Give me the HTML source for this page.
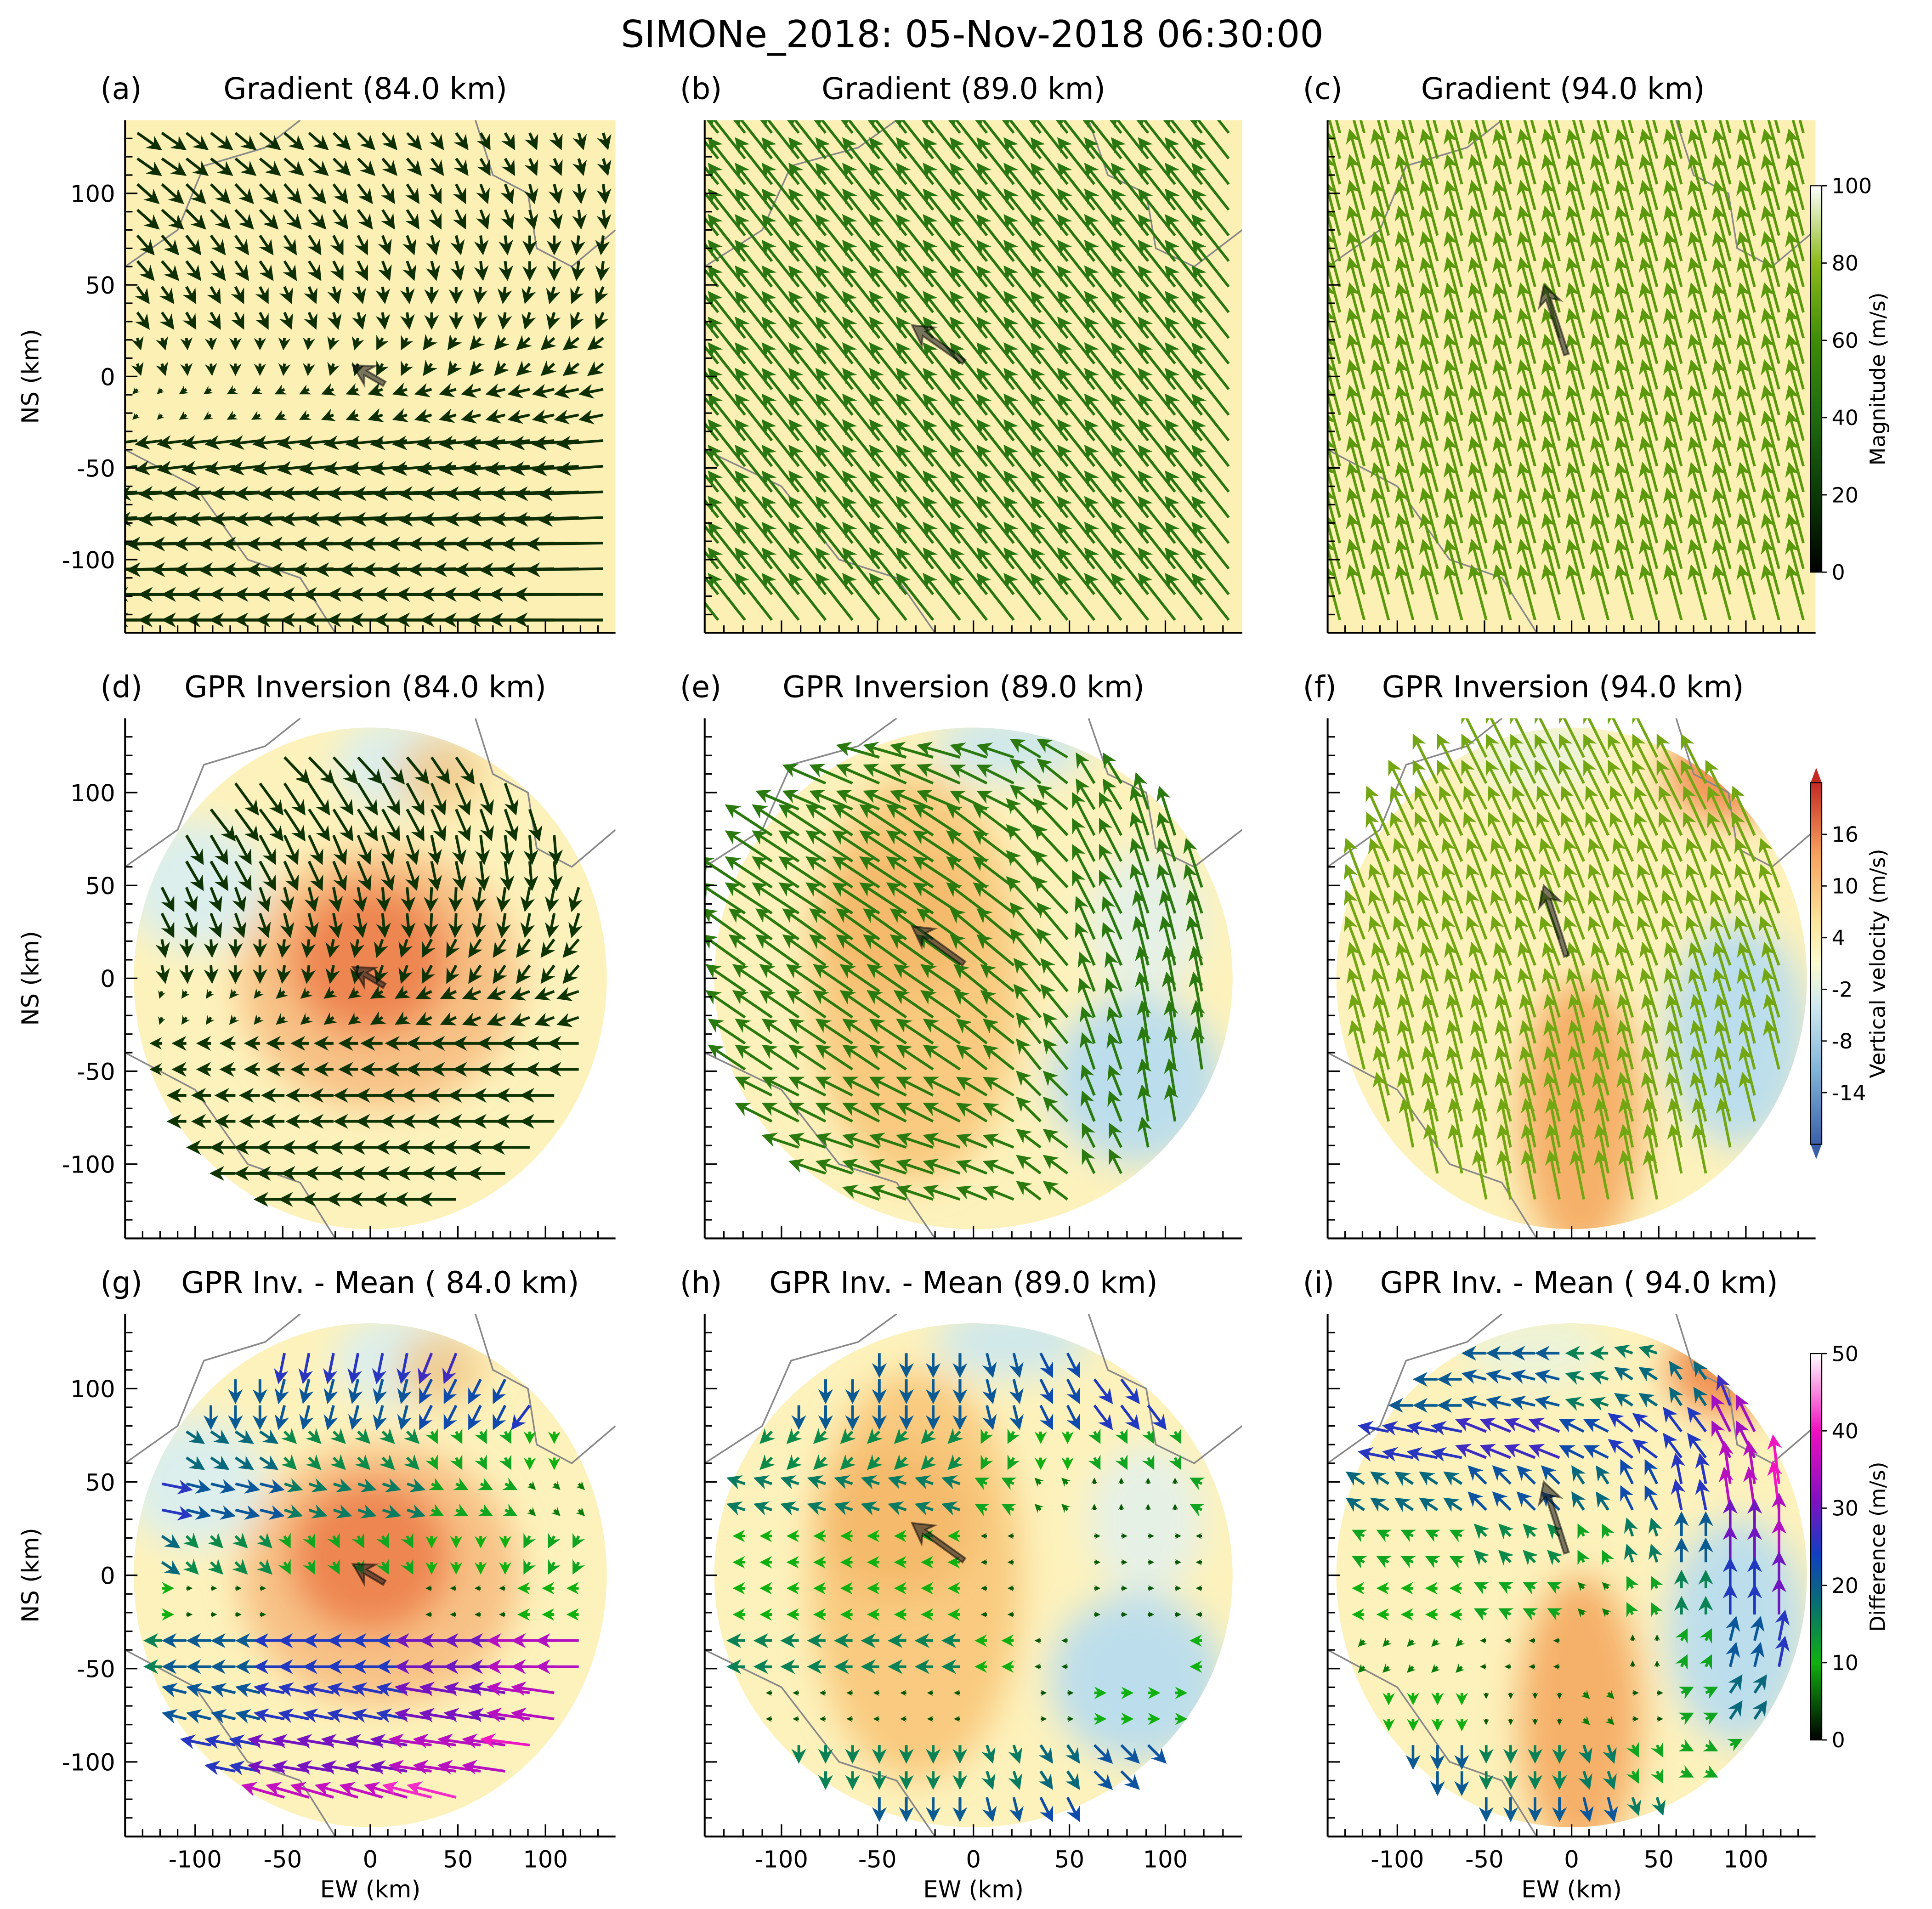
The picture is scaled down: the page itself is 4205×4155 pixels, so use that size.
<!DOCTYPE html>
<html><head><meta charset="utf-8"><style>
html,body{margin:0;padding:0;background:#fff}
svg{display:block}
text{font-family:"DejaVu Sans","Liberation Sans",sans-serif;fill:#000}
</style></head><body>
<svg id="fig" xmlns="http://www.w3.org/2000/svg" width="4205" height="4155" viewBox="0 0 1560 1541.5" preserveAspectRatio="none">
<defs>
<filter id="blur" x="-50%" y="-50%" width="200%" height="200%"><feGaussianBlur stdDeviation="14"/></filter>
<linearGradient id="gMag" x1="0" y1="1" x2="0" y2="0">
<stop offset="0" stop-color="#000"/><stop offset="0.2" stop-color="#0b3a06"/><stop offset="0.4" stop-color="#1f6a10"/><stop offset="0.6" stop-color="#3e8c08"/><stop offset="0.8" stop-color="#8cba1a"/><stop offset="1" stop-color="#ffffff"/></linearGradient>
<linearGradient id="gVel" x1="0" y1="1" x2="0" y2="0">
<stop offset="0" stop-color="#3a5fa8"/><stop offset="0.2" stop-color="#7fb3d8"/><stop offset="0.38" stop-color="#cfe8f0"/><stop offset="0.5" stop-color="#fbfbd0"/><stop offset="0.62" stop-color="#fbe49a"/><stop offset="0.8" stop-color="#f7a25e"/><stop offset="1" stop-color="#c42a24"/></linearGradient>
<linearGradient id="gDif" x1="0" y1="1" x2="0" y2="0">
<stop offset="0" stop-color="#000"/><stop offset="0.2" stop-color="#10b010"/><stop offset="0.35" stop-color="#087070"/><stop offset="0.48" stop-color="#1040c0"/><stop offset="0.62" stop-color="#8010c0"/><stop offset="0.8" stop-color="#f010c0"/><stop offset="1" stop-color="#ffffff"/></linearGradient>
</defs>
<text x="785" y="38" font-size="30" text-anchor="middle">SIMONe_2018: 05-Nov-2018 06:30:00</text>
<g id="plots"></g>
</svg>
<script>
// ---- data (m/s): row-band and column-band components, top->bottom / left->right ----
const aRowU=[12,10,6,2,-5,-12,-30,-45,-55,-65], aRowV=[-14,-16,-16,-14,-10,-4,-3,-2,-1,0], aColU=[8,6,5,4,2,0,-2,-4,-6,-8], aColV=[0,0,0,0,0,0,0,0,0,0];
const bRowU=[-30,-30,-30,-30,-30,-30,-30,-30,-30,-30], bRowV=[38,38,38,38,38,38,38,38,38,38], bColU=[0,0,0,0,0,0,0,0,0,0], bColV=[0,0,0,0,0,0,0,0,0,0];
const cRowU=[-12,-12,-12,-12,-12,-12,-12,-12,-12,-12], cRowV=[45,45,45,45,45,45,45,45,45,45], cColU=[0,0,0,0,0,0,0,0,0,0], cColV=[0,0,0,0,0,0,0,0,0,0];
const dRowU=[18,14,8,2,-5,-10,-18,-22,-26,-28], dRowV=[-22,-26,-24,-20,-15,-6,0,0,0,0], dColU=[8,6,5,3,2,0,-3,-5,-6,-8], dColV=[0,0,0,0,0,0,0,0,0,0];
const eRowU=[-35,-35,-38,-38,-35,-32,-30,-30,-30,-30], eRowV=[10,15,25,25,25,22,20,15,10,10], eColU=[0,0,0,0,0,5,10,20,25,25], eColV=[0,0,0,0,0,0,5,10,15,15];
const fRowU=[-20,-20,-18,-15,-15,-12,-10,-10,-8,-8], fRowV=[40,40,40,40,40,40,40,40,40,40], fColU=[0,0,0,0,0,0,0,0,0,0], fColV=[0,0,0,0,0,0,0,0,0,0];
const gRowU=[-5,-5,10,15,5,0,-25,-25,-30,-35], gRowV=[-25,-20,-10,-5,-10,0,0,5,5,10], gColU=[10,5,5,0,0,0,-5,-5,-10,-10], gColV=[0,0,0,0,0,0,0,0,0,0];
const hRowU=[0,0,-10,-15,-10,-10,-15,-5,0,0], hRowV=[-20,-20,-10,5,0,0,0,0,-15,-20], hColU=[0,0,0,0,0,5,10,15,15,5], hColV=[0,0,0,0,0,0,0,0,0,0];
const iRowU=[-20,-20,-25,-15,-10,-10,-5,0,0,0], iRowV=[0,5,10,15,10,5,0,-5,-15,-20], iColU=[0,0,0,0,0,5,5,10,10,10], iColV=[-5,-5,-5,0,0,0,5,10,20,25];
const magTicks=[0,20,40,60,80,100], velTicks=[16,10,4,-2,-8,-14], difTicks=[0,10,20,30,40,50];
const axisTicks=[-100,-50,0,50,100];

const NS='http://www.w3.org/2000/svg';
const root=document.getElementById('plots');
function mk(tag,attrs,parent){const e=document.createElementNS(NS,tag);for(const k in attrs)e.setAttribute(k,attrs[k]);(parent||root).appendChild(e);return e;}
const colsPx=[[101,497],[569,1003],[1072,1466]];
const rowsPx=[[97,511],[580,1000],[1061,1483]];
function difColor(m){const st=[[0,[0,0,0]],[10,[16,176,16]],[17,[8,112,112]],[24,[16,64,192]],[31,[128,16,192]],[40,[240,16,192]],[50,[255,255,255]]];
 m=Math.max(0,Math.min(50,m));for(let i=1;i<st.length;i++){if(m<=st[i][0]){const a=st[i-1],b=st[i],t=(m-a[0])/(b[0]-a[0]);const c=a[1].map((v,k)=>Math.round(v+(b[1][k]-v)*t));return `rgb(${c})`;}}return '#fff';}
function arrowPts(x,y,dx,dy,w,HL,HAL,HW){const L=Math.hypot(dx,dy);if(L<0.5)return null;const ux=dx/L,uy=dy/L,nx=-uy,ny=ux;
 let hl=HL,hal=HAL,hw=HW;if(L<hl){const s=L/hl;hl*=s;hal*=s;hw*=s;}
 const P=(a,b)=>(x+ux*a+nx*b).toFixed(1)+','+(y+uy*a+ny*b).toFixed(1);
 return [P(0,w/2),P(L-hal,w/2),P(L-hl,hw/2),P(L,0),P(L-hl,-hw/2),P(L-hal,-w/2),P(0,-w/2)].join(' ');}

const panels=[
{c:0,r:0,lab:'(a)',title:'Gradient (84.0 km)',tx:295,RU:aRowU,RV:aRowV,CU:aColU,CV:aColV,col:'#0e2e04',mask:false,ca:[8,-4,-10,6]},
{c:1,r:0,lab:'(b)',title:'Gradient (89.0 km)',tx:778,RU:bRowU,RV:bRowV,CU:bColU,CV:bColV,col:'#2a7612',mask:false,ca:[-5,8,-32,28]},
{c:2,r:0,lab:'(c)',title:'Gradient (94.0 km)',tx:1262,RU:cRowU,RV:cRowV,CU:cColU,CV:cColV,col:'#5a980e',mask:false,ca:[-3,12,-16,50]},
{c:0,r:1,lab:'(d)',title:'GPR Inversion (84.0 km)',tx:295,RU:dRowU,RV:dRowV,CU:dColU,CV:dColV,col:'#0e3404',mask:true,ca:[8,-4,-10,6]},
{c:1,r:1,lab:'(e)',title:'GPR Inversion (89.0 km)',tx:778,RU:eRowU,RV:eRowV,CU:eColU,CV:eColV,col:'#2b7a10',mask:true,ca:[-5,8,-32,28]},
{c:2,r:1,lab:'(f)',title:'GPR Inversion (94.0 km)',tx:1262,RU:fRowU,RV:fRowV,CU:fColU,CV:fColV,col:'#72a612',mask:true,ca:[-3,12,-16,50]},
{c:0,r:2,lab:'(g)',title:'GPR Inv. - Mean ( 84.0 km)',tx:307,RU:gRowU,RV:gRowV,CU:gColU,CV:gColV,col:null,mask:true,ca:[8,-4,-10,6]},
{c:1,r:2,lab:'(h)',title:'GPR Inv. - Mean (89.0 km)',tx:778,RU:hRowU,RV:hRowV,CU:hColU,CV:hColV,col:null,mask:true,ca:[-5,8,-32,28]},
{c:2,r:2,lab:'(i)',title:'GPR Inv. - Mean ( 94.0 km)',tx:1275,RU:iRowU,RV:iRowV,CU:iColU,CV:iColV,col:null,mask:true,ca:[-3,12,-16,50]}];
const blobs=[
 [[0,10,45,40,'#e4502a',0.9],[5,0,80,70,'#f4a060',0.6],[-100,50,40,35,'#d8eef2',0.9],[20,115,40,25,'#d8eef2',0.9],[40,110,25,20,'#f8c070',0.7]],
 [[-30,0,55,110,'#f7c070',0.8],[-40,30,40,40,'#f4b060',0.6],[85,-55,45,45,'#b8dcee',0.95],[20,125,40,20,'#cce8f0',0.9],[90,30,30,40,'#e0f0f0',0.8]],
 [[5,-75,35,75,'#f4a860',0.9],[90,110,35,25,'#f08848',0.9],[95,-30,40,60,'#b8dcee',0.95],[-20,120,40,20,'#e8f4e0',0.8]]];

panels.forEach((p,pi)=>{
 const [X0,X1]=colsPx[p.c],[Y0,Y1]=rowsPx[p.r];
 const sx=v=>X0+(v+140)/280*(X1-X0), sy=v=>Y0+(140-v)/280*(Y1-Y0);
 const kx=(X1-X0)/280, ky=(Y1-Y0)/280;
 const g=mk('g',{});
 const cid='clip'+pi;const cp=mk('clipPath',{id:cid},g);mk('rect',{x:X0,y:Y0,width:X1-X0,height:Y1-Y0},cp);
 const bg=mk('g',{'clip-path':`url(#${cid})`},g);
 if(!p.mask){const r=mk('rect',{x:X0,y:Y0,width:X1-X0,height:Y1-Y0,fill:'#fdf0b4'},bg);}
 else{const did='disc'+pi;const dc=mk('clipPath',{id:did},g);mk('ellipse',{cx:sx(0),cy:sy(0),rx:135*kx,ry:135*ky},dc);
  const dg=mk('g',{'clip-path':`url(#${did})`},bg);
  mk('rect',{x:X0,y:Y0,width:X1-X0,height:Y1-Y0,fill:'#fdf2bc'},dg);
  const bl=mk('g',{filter:'url(#blur)'},dg);
  blobs[p.c].forEach(b=>mk('ellipse',{cx:sx(b[0]),cy:sy(b[1]),rx:b[2]*kx,ry:b[3]*ky,fill:b[4],opacity:b[5]},bl));}
 const cont=mk('polyline',{points:[[-140,60],[-110,80],[-95,115],[-60,125],[-40,140]].map(q=>sx(q[0])+','+sy(q[1])).join(' '),fill:'none',stroke:'#888',"stroke-width":1.3},bg);
 
 mk('polyline',{points:[[-140,-40],[-100,-60],[-70,-100],[-40,-110],[-20,-140]].map(q=>sx(q[0])+','+sy(q[1])).join(' '),fill:'none',stroke:'#888',"stroke-width":1.3},bg);
 mk('polyline',{points:[[60,140],[70,110],[90,100],[95,70],[115,60],[140,80]].map(q=>sx(q[0])+','+sy(q[1])).join(' '),fill:'none',stroke:'#888',"stroke-width":1.3},bg);
 const ag=mk('g',{'clip-path':`url(#${cid})`},g);
 for(let i=0;i<20;i++)for(let j=0;j<20;j++){
  const xk=-133+14*j, yk=133-14*i;
  if(p.mask && (xk*xk+yk*yk)>132*132) continue;
  const u=p.RU[i>>1]+p.CU[j>>1], v=p.RV[i>>1]+p.CV[j>>1];
  const pts=arrowPts(sx(xk),sy(yk),u*1.0,-v*1.0,2.2,12,9,12);if(!pts)continue;
  const col=p.col||difColor(Math.hypot(u,v));
  const a=mk('polygon',{points:pts,fill:col},ag);
  
  
 }
 const ca=mk('polygon',{points:arrowPts(sx(p.ca[0]),sy(p.ca[1]),(p.ca[2]-p.ca[0])*kx,-(p.ca[3]-p.ca[1])*ky,4,16,12,18),fill:'#222','fill-opacity':0.6,stroke:'#000','stroke-opacity':0.5,'stroke-width':1.5},ag);
 
 mk('line',{x1:X0,y1:Y0,x2:X0,y2:Y1,stroke:'#000','stroke-width':1.5},g);
 mk('line',{x1:X0,y1:Y1,x2:X1,y2:Y1,stroke:'#000','stroke-width':1.5},g);
 for(let t=-130;t<=130;t+=10){const maj=t%50===0;
  mk('line',{x1:X0,y1:sy(t),x2:X0+(maj?10:6),y2:sy(t),stroke:'#000','stroke-width':1.2},g);
  mk('line',{x1:sx(t),y1:Y1,x2:sx(t),y2:Y1-(maj?10:6),stroke:'#000','stroke-width':1.2},g);}
 if(p.c===0){axisTicks.forEach(t=>{const tl=mk('text',{x:X0-8,y:sy(t)+7,'font-size':19,'text-anchor':'end'},g);tl.textContent=t;});
  const yl=mk('text',{x:31,y:(Y0+Y1)/2,'font-size':19,'text-anchor':'middle',transform:`rotate(-90 31 ${(Y0+Y1)/2})`},g);yl.textContent='NS (km)';}
 if(p.r===2){axisTicks.forEach(t=>{const tl=mk('text',{x:sx(t),y:Y1+25,'font-size':19,'text-anchor':'middle'},g);tl.textContent=t;});
  const xl=mk('text',{x:sx(0),y:1532,'font-size':19,'text-anchor':'middle'},g);xl.textContent='EW (km)';}
 const lt=mk('text',{x:X0-20,y:Y0-17,'font-size':24},g);lt.textContent=p.lab;
 const tt=mk('text',{x:p.tx,y:Y0-17,'font-size':24,'text-anchor':'middle'},g);tt.textContent=p.title;
});
function cbar(y0,y1,grad,ticks,vmin,vmax,label,name,tri){
 const g=mk('g',{});
 const x=1462,w=9;
 mk('rect',{x:x,y:y0,width:w,height:y1-y0,fill:`url(#${grad})`},g);
 if(tri){mk('polygon',{points:`${x},${y0} ${x+w/2},${y0-12} ${x+w},${y0}`,fill:'#c42a24'},g);mk('polygon',{points:`${x},${y1} ${x+w/2},${y1+12} ${x+w},${y1}`,fill:'#3a5fa8'},g);}
 mk('rect',{x:x,y:y0,width:w,height:y1-y0,fill:'none',stroke:'#000','stroke-width':0.8},g);
 ticks.forEach(t=>{const yy=y1-(t-vmin)/(vmax-vmin)*(y1-y0);
  mk('line',{x1:x+w,y1:yy,x2:x+w+4,y2:yy,stroke:'#000'},g);
  const tl=mk('text',{x:x+w+8,y:yy+6,'font-size':17},g);tl.textContent=t;});
 const cy=(y0+y1)/2;const l=mk('text',{x:1522,y:cy,'font-size':17,'text-anchor':'middle',transform:`rotate(-90 1522 ${cy})`},g);l.textContent=label;}
cbar(150,462,'gMag',magTicks,0,100,'Magnitude (m/s)','magnitude-colorbar',false);
cbar(632,924,'gVel',velTicks,-20,22,'Vertical velocity (m/s)','vertical-velocity-colorbar',true);
cbar(1093,1405,'gDif',difTicks,0,50,'Difference (m/s)','difference-colorbar',false);
</script>
</body></html>
